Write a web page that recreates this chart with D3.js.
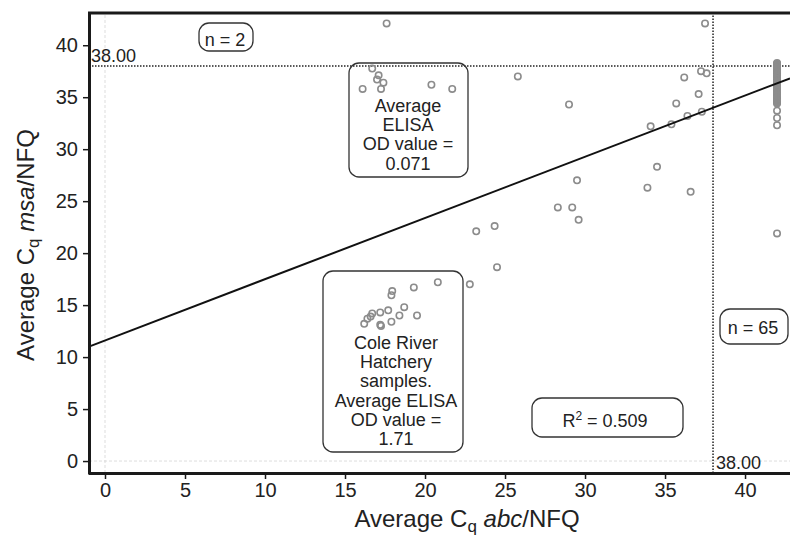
<!DOCTYPE html>
<html lang="en">
<head>
  <meta charset="UTF-8">
  <title>Cq abc vs msa</title>
  <style>
    body { margin: 0; background: #fff; }
    svg text { font-family: "Liberation Sans", Arial, sans-serif; fill: #222; }
  </style>
</head>
<body>
<svg id="chart"></svg>
<script src="https://cdn.jsdelivr.net/npm/d3@7/dist/d3.min.js"></script>
<script>
// average Cq values
const abcCq = [17.6, 37.5, 16.7, 17.1, 17.0, 17.4, 17.25, 16.1, 20.4, 21.7, 25.8, 29.0, 29.5,
  37.25, 37.6, 36.2, 37.1, 35.7, 37.3, 36.4, 35.4, 34.1, 34.5, 33.9, 36.6,
  28.3, 29.2, 29.6, 23.2, 24.35, 24.5, 22.8, 20.8, 19.3, 17.95, 17.9, 18.7, 17.7, 17.2,
  16.7, 16.6, 16.4, 16.2, 18.4, 19.5, 17.9, 17.2, 17.25];
const msaCq = [42.1, 42.1, 37.75, 37.1, 36.7, 36.4, 35.8, 35.8, 36.2, 35.8, 37.0, 34.3, 27.0,
  37.5, 37.3, 36.9, 35.3, 34.4, 33.6, 33.2, 32.4, 32.2, 28.3, 26.3, 25.9,
  24.4, 24.4, 23.2, 22.1, 22.6, 18.65, 17.0, 17.2, 16.7, 16.35, 15.95, 14.8, 14.5, 14.3,
  14.2, 13.9, 13.7, 13.2, 14.0, 14.0, 13.4, 13.1, 13.0];

// samples with no abc amplification, plotted at 42
const plateauAbc = 42;
const plateauMsa = [21.9, 32.3, 33.0, 33.7, 34.4, 34.5, 34.7, 34.8, 34.9, 35.0, 35.1, 35.3,
  35.4, 35.5, 35.6, 35.6, 35.8, 35.9, 36.0, 36.1, 36.1, 36.2, 36.3, 36.4, 36.5, 36.6,
  36.6, 36.7, 36.8, 36.9, 36.9, 37.0, 37.1, 37.1, 37.2, 37.3, 37.3, 37.4, 37.5, 37.5,
  37.6, 37.6, 37.7, 37.7, 37.8, 37.8, 37.9, 37.9, 38.0, 38.0, 38.0, 38.1, 38.1, 38.2,
  38.2, 38.3, 36.2, 35.7, 36.8, 37.4, 34.6, 35.2, 36.0, 37.0, 38.1];

const xTicks = [0, 5, 10, 15, 20, 25, 30, 35, 40];
const yTicks = [0, 5, 10, 15, 20, 25, 30, 35, 40];
const cutoff = 38;
const fitSlope = 0.589;
const fitIntercept = 11.6;

const width = 790;
const height = 535;

const svg = d3.select('#chart')
  .attr('width', width)
  .attr('height', height);

const x = d3.scaleLinear().domain([-1, 42.81]).range([89, 790]);
const y = d3.scaleLinear().domain([-1.15, 43.1]).range([473, 13]);

// faint zero lines
svg.append('line')
  .attr('x1', x(0)).attr('x2', x(0))
  .attr('y1', y.range()[0]).attr('y2', y.range()[1])
  .attr('stroke', '#d4d4d4').attr('stroke-width', 0.8).attr('stroke-dasharray', '3,2');
svg.append('line')
  .attr('x1', x.range()[0]).attr('x2', x.range()[1])
  .attr('y1', y(0)).attr('y2', y(0))
  .attr('stroke', '#d4d4d4').attr('stroke-width', 0.8).attr('stroke-dasharray', '3,2');

// cutoff lines at 38
svg.append('line')
  .attr('x1', x.range()[0]).attr('x2', x.range()[1])
  .attr('y1', y(cutoff)).attr('y2', y(cutoff))
  .attr('stroke', '#222').attr('stroke-width', 1.5).attr('stroke-dasharray', '1.5,1.5');
svg.append('line')
  .attr('x1', x(cutoff)).attr('x2', x(cutoff))
  .attr('y1', y.range()[0]).attr('y2', y.range()[1])
  .attr('stroke', '#222').attr('stroke-width', 1.5).attr('stroke-dasharray', '1.5,1.5');

svg.append('text')
  .attr('x', 91).attr('y', y(cutoff) - 4)
  .attr('font-size', 18)
  .text(cutoff.toFixed(2));
svg.append('text')
  .attr('x', x(cutoff) + 3).attr('y', 469)
  .attr('font-size', 18)
  .text(cutoff.toFixed(2));

// points
const points = abcCq.map((v, i) => ({x: v, y: msaCq[i]}))
  .concat(plateauMsa.map(v => ({x: plateauAbc, y: v})));

svg.append('g')
  .selectAll('circle')
  .data(points)
  .enter()
  .append('circle')
  .attr('cx', d => x(d.x))
  .attr('cy', d => y(d.y))
  .attr('r', 3.2)
  .attr('fill', 'none')
  .attr('stroke', '#8c8c8c')
  .attr('stroke-width', 1.6);

// regression line
const xd = x.domain();
svg.append('line')
  .attr('x1', x(xd[0])).attr('y1', y(fitSlope * xd[0] + fitIntercept))
  .attr('x2', x(xd[1])).attr('y2', y(fitSlope * xd[1] + fitIntercept))
  .attr('stroke', '#111')
  .attr('stroke-width', 2);

// axes
const xAxis = svg.append('g')
  .attr('transform', `translate(0, ${y.range()[0]})`)
  .call(d3.axisBottom(x).tickValues(xTicks).tickSize(6).tickPadding(4));
const yAxis = svg.append('g')
  .attr('transform', `translate(${x.range()[0]}, 0)`)
  .call(d3.axisLeft(y).tickValues(yTicks).tickSize(6).tickPadding(5));

[xAxis, yAxis].forEach(a => {
  a.select('.domain').attr('stroke', '#1a1a1a').attr('stroke-width', 3);
  a.selectAll('.tick line').attr('stroke', '#1a1a1a').attr('stroke-width', 1.5);
  a.selectAll('.tick text')
    .attr('font-size', 20)
    .attr('font-family', '"Liberation Sans", Arial, sans-serif')
    .attr('fill', '#222');
});
xAxis.select('.domain').attr('d', `M${x.range()[0]},0.5H${x.range()[1]}`);
yAxis.select('.domain').attr('d', `M0.5,${y.range()[0] + 1.5}V${y.range()[1]}`);

// top border
svg.append('line')
  .attr('x1', x.range()[0] - 1).attr('x2', x.range()[1])
  .attr('y1', y.range()[1]).attr('y2', y.range()[1])
  .attr('stroke', '#1a1a1a').attr('stroke-width', 3);

// axis titles
const xTitle = svg.append('text')
  .attr('x', 467).attr('y', 527)
  .attr('text-anchor', 'middle')
  .attr('font-size', 24);
xTitle.append('tspan').text('Average C');
xTitle.append('tspan').attr('font-size', 17).attr('dy', 5).text('q');
xTitle.append('tspan').attr('dy', -5).text(' ');
xTitle.append('tspan').attr('font-style', 'italic').text('abc');
xTitle.append('tspan').text('/NFQ');

const yTitle = svg.append('text')
  .attr('transform', 'translate(34, 245) rotate(-90)')
  .attr('text-anchor', 'middle')
  .attr('font-size', 24);
yTitle.append('tspan').text('Average C');
yTitle.append('tspan').attr('font-size', 17).attr('dy', 5).text('q');
yTitle.append('tspan').attr('dy', -5).text(' ');
yTitle.append('tspan').attr('font-style', 'italic').text('msa');
yTitle.append('tspan').text('/NFQ');

// annotation boxes
const notes = [
  {x: 199, y: 23, w: 54, h: 28, cx: 225, lines: ['n = 2'], y0: 46},
  {x: 349, y: 63, w: 119, h: 114, cx: 408, lines: ['Average', 'ELISA', 'OD value =', '0.071'], y0: 112},
  {x: 323, y: 271, w: 140, h: 181, cx: 396, lines: ['Cole River', 'Hatchery', 'samples.', 'Average ELISA', 'OD value =', '1.71'], y0: 349},
  {x: 720, y: 309, w: 68, h: 35, cx: 753, lines: ['n = 65'], y0: 334},
  {x: 532, y: 398, w: 151, h: 39, cx: 605, lines: [], y0: 427}
];

const noteG = svg.append('g')
  .selectAll('g')
  .data(notes)
  .enter()
  .append('g');

noteG.append('rect')
  .attr('x', d => d.x).attr('y', d => d.y)
  .attr('width', d => d.w).attr('height', d => d.h)
  .attr('rx', 10)
  .attr('fill', 'none')
  .attr('stroke', '#333')
  .attr('stroke-width', 1.3);

noteG.append('text')
  .attr('text-anchor', 'middle')
  .attr('font-size', 18)
  .each(function(d) {
    d.lines.forEach((l, i) => {
      d3.select(this).append('tspan')
        .attr('x', d.cx)
        .attr('y', d.y0 + i * 19.2)
        .text(l);
    });
  });

// R squared label
const r2 = svg.append('text')
  .attr('x', 605).attr('y', 427)
  .attr('text-anchor', 'middle')
  .attr('font-size', 18);
r2.append('tspan').text('R');
r2.append('tspan').attr('font-size', 12).attr('dy', -7).text('2');
r2.append('tspan').attr('dy', 7).text(' = 0.509');
</script>
</body>
</html>
